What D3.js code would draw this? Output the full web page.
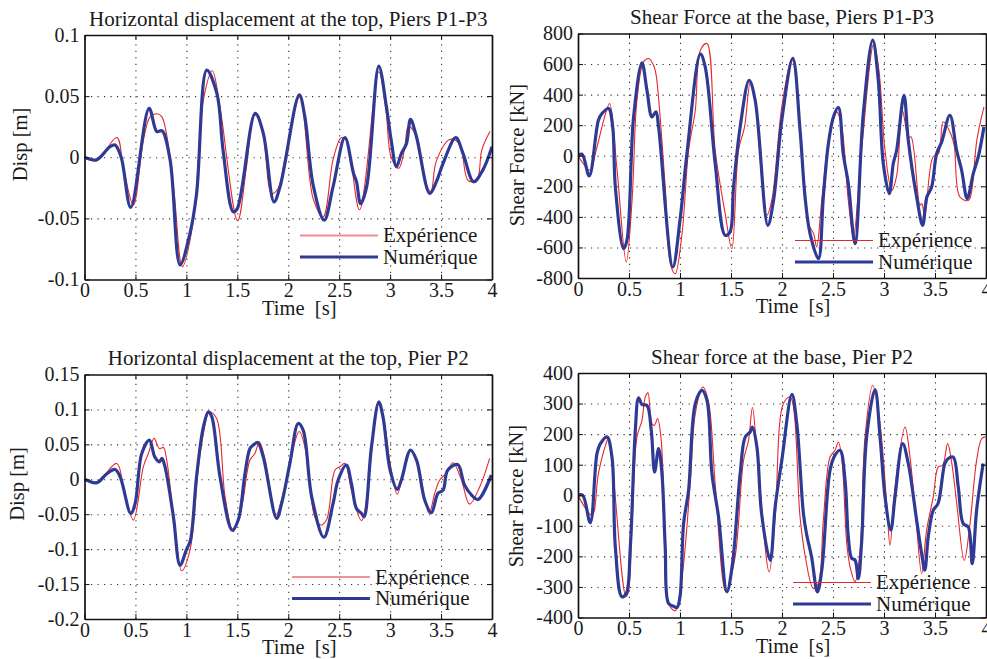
<!DOCTYPE html>
<html>
<head>
<meta charset="utf-8">
<script src="https://cdn.jsdelivr.net/npm/d3@7"></script>
<style>
  body { margin: 0; background: #fff; }
  svg text { font-family: "Liberation Serif", "Times New Roman", serif; fill: #1a1a1a; }
</style>
</head>
<body>
<div id="chart"></div>
<script>
// x axis, shared by the four panels
var xTicks = [0, 0.5, 1, 1.5, 2, 2.5, 3, 3.5, 4];
var xTickLabels = ["0", "0.5", "1", "1.5", "2", "2.5", "3", "3.5", "4"];

var dispP13Ticks = [-0.1, -0.05, 0, 0.05, 0.1];
var dispP13TickLabels = ["-0.1", "-0.05", "0", "0.05", "0.1"];
var shearP13Ticks = [-800, -600, -400, -200, 0, 200, 400, 600, 800];
var shearP13TickLabels = ["-800", "-600", "-400", "-200", "0", "200", "400", "600", "800"];
var dispP2Ticks = [-0.2, -0.15, -0.1, -0.05, 0, 0.05, 0.1, 0.15];
var dispP2TickLabels = ["-0.2", "-0.15", "-0.1", "-0.05", "0", "0.05", "0.1", "0.15"];
var shearP2Ticks = [-400, -300, -200, -100, 0, 100, 200, 300, 400];
var shearP2TickLabels = ["-400", "-300", "-200", "-100", "0", "100", "200", "300", "400"];

var seriesNames = ["Expérience", "Numérique"];

// top displacement, piers P1-P3 [m]
var dispP13ExpT = [0, 0.12, 0.317, 0.38, 0.48, 0.578, 0.644, 0.71, 0.76, 0.873, 0.96, 1.07, 1.167, 1.255, 1.33, 1.503, 1.59, 1.667, 1.74, 1.837, 1.9, 1.967, 2.114, 2.245, 2.343, 2.44, 2.52, 2.57, 2.70, 2.889, 2.96, 3.01, 3.085, 3.14, 3.18, 3.26, 3.356, 3.40, 3.454, 3.585, 3.68, 3.765, 3.85, 3.90, 3.98];
var dispP13ExpV = [0, -0.003, 0.0162, -0.008, -0.039, 0.014, 0.033, 0.0356, 0.033, -0.024, -0.0896, -0.051, 0.047, 0.0708, 0.041, -0.052, -0.008, 0.0345, 0.025, -0.0296, -0.0255, -0.002, 0.0495, -0.034, -0.0487, -0.002, 0.016, 0.014, -0.043, 0.070, 0.038, 0, -0.009, 0.006, 0.0255, 0.017, -0.0228, -0.028, -0.003, 0.0146, 0.011, -0.019, -0.019, 0.006, 0.021];
var dispP13NumT = [0, 0.12, 0.25, 0.30, 0.36, 0.454, 0.634, 0.71, 0.76, 0.84, 0.938, 1.036, 1.10, 1.20, 1.30, 1.36, 1.46, 1.50, 1.676, 1.755, 1.86, 1.92, 2.108, 2.163, 2.245, 2.353, 2.44, 2.556, 2.64, 2.67, 2.71, 2.77, 2.889, 2.964, 3.01, 3.062, 3.11, 3.16, 3.20, 3.258, 3.389, 3.454, 3.52, 3.644, 3.716, 3.82, 3.91, 4.0];
var dispP13NumV = [0, -0.002, 0.0086, 0.010, 0.0, -0.041, 0.040, 0.021, 0.0217, -0.002, -0.088, -0.062, -0.03, 0.0713, 0.052, 0.006, -0.0446, -0.042, 0.036, 0.0195, -0.0365, -0.024, 0.051, 0.033, -0.023, -0.0515, -0.024, 0.016, -0.013, -0.02, -0.038, -0.024, 0.0746, 0.041, 0.014, -0.0078, 0.003, 0.011, 0.031, 0.017, -0.0296, -0.02, -0.005, 0.016, 0.003, -0.02, -0.0105, 0.0086];

// base shear, piers P1-P3 [kN]
var shearP13ExpT = [0, 0.12, 0.17, 0.235, 0.27, 0.31, 0.38, 0.473, 0.53, 0.578, 0.643, 0.692, 0.741, 0.764, 0.855, 0.905, 0.953, 1.02, 1.084, 1.15, 1.20, 1.264, 1.345, 1.443, 1.508, 1.574, 1.633, 1.69, 1.737, 1.85, 1.90, 1.998, 2.096, 2.145, 2.26, 2.31, 2.34, 2.39, 2.455, 2.537, 2.586, 2.65, 2.70, 2.78, 2.90, 2.95, 3.01, 3.076, 3.125, 3.18, 3.24, 3.266, 3.353, 3.37, 3.40, 3.48, 3.535, 3.58, 3.66, 3.69, 3.744, 3.83, 3.86, 3.91, 3.98];
var shearP13ExpV = [0, -95, 14, 189, 276, 342, -73, -695, -292, 363, 614, 636, 592, 538, -204, -706, -772, -510, 36, 298, 691, 735, 36, -379, -608, 36, 189, 483, 363, -390, -292, 320, 636, 451, -444, -510, -597, -292, 80, 287, 189, -292, -531, 36, 735, 560, 36, -226, -128, 298, 123, 123, -324, -313, -390, -8, 14, 222, 134, 60, -270, -292, -230, 101, 320];
var shearP13NumT = [0, 0.04, 0.11, 0.20, 0.235, 0.30, 0.34, 0.366, 0.447, 0.48, 0.545, 0.627, 0.676, 0.725, 0.764, 0.79, 0.93, 1.0, 1.068, 1.20, 1.247, 1.345, 1.443, 1.49, 1.525, 1.59, 1.678, 1.737, 1.861, 1.917, 1.998, 2.106, 2.177, 2.226, 2.275, 2.357, 2.405, 2.455, 2.504, 2.553, 2.60, 2.65, 2.716, 2.797, 2.889, 2.944, 2.993, 3.052, 3.091, 3.124, 3.196, 3.238, 3.32, 3.379, 3.42, 3.467, 3.516, 3.565, 3.646, 3.712, 3.761, 3.816, 3.875, 3.924, 3.98];
var shearP13NumV = [0, 10, -132, 232, 276, 309, 189, -204, -608, -553, 254, 608, 429, 254, 287, 189, -728, -422, 14, 665, 582, -51, -521, -499, -204, 189, 494, 363, -455, -292, 232, 637, 167, -270, -510, -673, -270, 80, 254, 316, 14, -182, -575, 276, 757, 494, -51, -248, -51, 36, 396, 101, -270, -455, -270, -204, 14, 90, 265, 36, -95, -280, -117, -8, 189];

// top displacement, pier P2 [m]
var dispP2ExpT = [0, 0.12, 0.317, 0.382, 0.48, 0.578, 0.627, 0.683, 0.735, 0.775, 0.807, 0.89, 0.954, 1.036, 1.118, 1.167, 1.225, 1.297, 1.38, 1.46, 1.543, 1.624, 1.673, 1.716, 1.77, 1.88, 1.951, 2.108, 2.163, 2.26, 2.317, 2.376, 2.458, 2.507, 2.556, 2.62, 2.72, 2.889, 2.95, 3.0, 3.07, 3.128, 3.193, 3.26, 3.382, 3.438, 3.487, 3.55, 3.618, 3.70, 3.78, 3.88, 3.977];
var dispP2ExpV = [0, -0.004, 0.0227, -0.0107, -0.0584, 0.018, 0.037, 0.0585, 0.044, 0.0455, 0.0275, -0.0727, -0.131, -0.101, 0.018, 0.0655, 0.0966, 0.087, -0.025, -0.075, -0.0393, 0.0275, 0.037, 0.0537, 0.0298, -0.051, -0.02, 0.0684, 0.0465, -0.0537, -0.0655, -0.058, 0.013, 0.018, 0.0227, -0.0155, -0.0594, 0.112, 0.075, 0.0227, -0.0212, 0.0084, 0.0417, 0.027, -0.0489, -0.02, -0.001, 0.0084, 0.0236, -0.001, -0.0355, -0.0107, 0.03];
var dispP2NumT = [0, 0.12, 0.22, 0.30, 0.35, 0.454, 0.497, 0.562, 0.637, 0.69, 0.735, 0.76, 0.79, 0.873, 0.938, 1.0, 1.04, 1.10, 1.167, 1.216, 1.25, 1.33, 1.45, 1.51, 1.575, 1.624, 1.657, 1.70, 1.755, 1.886, 1.935, 2.016, 2.098, 2.147, 2.23, 2.35, 2.44, 2.49, 2.57, 2.62, 2.67, 2.72, 2.745, 2.817, 2.889, 2.93, 3.0, 3.07, 3.11, 3.20, 3.26, 3.34, 3.405, 3.47, 3.52, 3.565, 3.663, 3.73, 3.80, 3.863, 3.993];
var dispP2NumV = [0, -0.005, 0.008, 0.014, 0.0036, -0.0489, -0.0346, 0.037, 0.056, 0.032, 0.025, 0.03, 0.018, -0.054, -0.123, -0.101, -0.087, 0.0036, 0.075, 0.0966, 0.0894, 0.0036, -0.0727, -0.058, 0.008, 0.044, 0.049, 0.0527, 0.032, -0.056, -0.0346, 0.0227, 0.0799, 0.07, -0.025, -0.083, -0.0346, -0.001, 0.0203, -0.006, -0.042, -0.049, -0.0537, 0.0465, 0.1106, 0.0894, 0.013, -0.0145, -0.001, 0.0417, 0.027, -0.03, -0.0479, -0.02, -0.0155, 0.013, 0.021, -0.008, -0.0227, -0.029, 0.006];

// base shear, pier P2 [kN]
var shearP2ExpT = [0, 0.137, 0.20, 0.27, 0.30, 0.35, 0.47, 0.49, 0.53, 0.578, 0.627, 0.66, 0.686, 0.725, 0.751, 0.78, 0.813, 0.855, 0.888, 0.953, 1.02, 1.10, 1.15, 1.224, 1.28, 1.345, 1.45, 1.54, 1.623, 1.672, 1.71, 1.754, 1.874, 1.933, 2.014, 2.08, 2.177, 2.226, 2.307, 2.356, 2.405, 2.471, 2.52, 2.553, 2.585, 2.635, 2.667, 2.716, 2.765, 2.814, 2.889, 2.96, 3.026, 3.059, 3.108, 3.206, 3.255, 3.32, 3.369, 3.418, 3.483, 3.532, 3.575, 3.624, 3.665, 3.713, 3.787, 3.843, 3.908, 3.957, 3.99];
var shearP2ExpV = [0, -65, 71, 164, 189, 49, -332, -322, -93, 191, 245, 322, 335, 234, 229, 251, 191, -136, -354, -378, -267, 38, 267, 354, 305, 38, -316, -202, 114, 180, 287, 147, -251, -71, 300, 321, -71, -196, -305, -289, -82, 125, 147, 174, 125, -158, -234, -283, -185, 191, 360, 235, -27, -164, 27, 223, 125, -104, -256, -114, -5, 93, 98, 169, 104, -27, -213, -93, 114, 185, 191];
var shearP2NumT = [0, 0.046, 0.12, 0.186, 0.22, 0.284, 0.333, 0.366, 0.43, 0.473, 0.513, 0.562, 0.594, 0.627, 0.676, 0.718, 0.751, 0.79, 0.823, 0.855, 0.888, 0.937, 0.97, 1.0, 1.035, 1.084, 1.15, 1.215, 1.264, 1.313, 1.378, 1.46, 1.515, 1.59, 1.64, 1.688, 1.71, 1.754, 1.80, 1.884, 1.933, 1.998, 2.097, 2.145, 2.21, 2.24, 2.29, 2.347, 2.39, 2.471, 2.52, 2.569, 2.618, 2.65, 2.683, 2.716, 2.748, 2.78, 2.83, 2.912, 2.961, 3.01, 3.066, 3.108, 3.183, 3.238, 3.32, 3.369, 3.40, 3.434, 3.483, 3.53, 3.597, 3.63, 3.679, 3.728, 3.777, 3.826, 3.865, 3.908, 3.972];
var shearP2NumV = [0, 0, -90, 136, 169, 191, 125, -169, -332, -322, -169, 213, 319, 297, 294, 213, 76, 153, 71, -169, -354, -363, -367, -332, -93, 16, 300, 343, 311, 71, -71, -316, -223, 71, 191, 207, 223, 158, -60, -213, -38, 114, 330, 234, -60, -125, -202, -316, -245, 82, 131, 147, 49, -136, -206, -212, -273, -157, 191, 346, 191, -5, -114, -5, 169, 104, -82, -191, -245, -136, -49, -27, 104, 120, 125, 27, -93, -104, -224, -49, 104];

var RED = "#e8262b", BLUE = "#2f3a94";

var panels = [
  { title: "Horizontal displacement at the top, Piers P1-P3", ylabel: "Disp [m]",
    left: 84.5, right: 492, top: 35, bottom: 279.5, yDomain: [-0.1, 0.1],
    ticks: dispP13Ticks, tickLabels: dispP13TickLabels,
    exp: [dispP13ExpT, dispP13ExpV], num: [dispP13NumT, dispP13NumV],
    ylabX: 27, ylabY: 144.5, legX: 300, legY: 235.5, legRed: "#f28c90", legRedW: 2 },
  { title: "Shear Force at the base, Piers P1-P3", ylabel: "Shear Force [kN]",
    left: 578, right: 986, top: 33.5, bottom: 278, yDomain: [-800, 800],
    ticks: shearP13Ticks, tickLabels: shearP13TickLabels,
    exp: [shearP13ExpT, shearP13ExpV], num: [shearP13NumT, shearP13NumV],
    ylabX: 524, ylabY: 155, legX: 795, legY: 240.5, legRed: RED, legRedW: 1.2 },
  { title: "Horizontal displacement at the top, Pier P2", ylabel: "Disp [m]",
    left: 84.5, right: 492, top: 374.5, bottom: 619, yDomain: [-0.2, 0.15],
    ticks: dispP2Ticks, tickLabels: dispP2TickLabels,
    exp: [dispP2ExpT, dispP2ExpV], num: [dispP2NumT, dispP2NumV],
    ylabX: 24, ylabY: 484, legX: 292, legY: 577, legRed: RED, legRedW: 1.2 },
  { title: "Shear force at the base, Pier P2", ylabel: "Shear Force [kN]",
    left: 578, right: 986, top: 373, bottom: 617.5, yDomain: [-400, 400],
    ticks: shearP2Ticks, tickLabels: shearP2TickLabels,
    exp: [shearP2ExpT, shearP2ExpV], num: [shearP2NumT, shearP2NumV],
    ylabX: 523, ylabY: 496, legX: 793, legY: 582.5, legRed: RED, legRedW: 1.2 }
];

var svg = d3.select("#chart").append("svg")
  .attr("width", 987).attr("height", 659)
  .style("display", "block");

panels.forEach(function(p, n){ drawPanel(p, n); });

function drawPanel(p, n){
  var w = p.right - p.left, h = p.bottom - p.top;
  var x = d3.scaleLinear().domain([0, 4]).range([p.left, p.right]);
  var y = d3.scaleLinear().domain(p.yDomain).range([p.bottom, p.top]);
  var g = svg.append("g");

  g.append("clipPath").attr("id", "clip" + n)
    .append("rect").attr("x", p.left).attr("y", p.top).attr("width", w).attr("height", h);

  // dotted grid
  var gx = g.append("g").attr("transform", "translate(0," + p.bottom + ")")
    .call(d3.axisBottom(x).tickValues(xTicks.slice(1, -1)).tickSize(-h).tickFormat(""));
  var gy = g.append("g").attr("transform", "translate(" + p.left + ",0)")
    .call(d3.axisLeft(y).tickValues(p.ticks.slice(1, -1)).tickSize(-w).tickFormat(""));
  [gx, gy].forEach(function(s){
    s.select(".domain").remove();
    s.selectAll("line").attr("stroke", "#333").attr("stroke-width", 1.1)
      .attr("stroke-dasharray", "1.2,5.3");
  });

  var line = d3.line()
    .x(function(d){ return x(d[0]); })
    .y(function(d){ return y(d[1]); })
    .curve(d3.curveCatmullRom.alpha(0.5));

  var plot = g.append("g").attr("clip-path", "url(#clip" + n + ")");
  plot.append("path").datum(d3.zip(p.exp[0], p.exp[1]))
    .attr("d", line).attr("fill", "none").attr("stroke", RED).attr("stroke-width", 1.1);
  plot.append("path").datum(d3.zip(p.num[0], p.num[1]))
    .attr("d", line).attr("fill", "none").attr("stroke", BLUE)
    .attr("stroke-width", 3.2).attr("stroke-linejoin", "round");

  // axes with inside ticks
  var fmtY = function(d){ return p.tickLabels[p.ticks.indexOf(d)]; };
  var fmtX = function(d){ return xTickLabels[xTicks.indexOf(d)]; };
  var axes = [
    g.append("g").attr("transform", "translate(0," + p.bottom + ")")
      .call(d3.axisBottom(x).tickValues(xTicks).tickFormat(fmtX).tickSizeInner(-5).tickSizeOuter(0).tickPadding(3.5)),
    g.append("g").attr("transform", "translate(" + p.left + ",0)")
      .call(d3.axisLeft(y).tickValues(p.ticks).tickFormat(fmtY).tickSizeInner(-5).tickSizeOuter(0).tickPadding(5)),
    g.append("g").attr("transform", "translate(0," + p.top + ")")
      .call(d3.axisTop(x).tickValues(xTicks).tickFormat("").tickSizeInner(-5).tickSizeOuter(0)),
    g.append("g").attr("transform", "translate(" + p.right + ",0)")
      .call(d3.axisRight(y).tickValues(p.ticks).tickFormat("").tickSizeInner(-5).tickSizeOuter(0))
  ];
  axes.forEach(function(a){
    a.attr("font-family", null);
    a.select(".domain").attr("stroke", "#111").attr("stroke-width", 1.7);
    a.selectAll(".tick line").attr("stroke", "#111").attr("stroke-width", 1);
    a.selectAll("text").attr("font-size", 20).attr("fill", "#1a1a1a");
  });

  g.append("text").attr("x", (p.left + p.right) / 2).attr("y", p.top - 9.5)
    .attr("text-anchor", "middle").attr("font-size", 21).text(p.title);
  g.append("text").attr("x", (p.left + p.right) / 2 + 11).attr("y", p.bottom + 35)
    .attr("text-anchor", "middle").attr("font-size", 20.5).attr("xml:space", "preserve")
    .text("Time  [s]");
  g.append("text").attr("transform", "translate(" + p.ylabX + "," + p.ylabY + ") rotate(-90)")
    .attr("text-anchor", "middle").attr("font-size", 20.5).text(p.ylabel);

  // legend (no box)
  var leg = g.append("g");
  [[p.legRed, p.legRedW], [BLUE, 3.2]].forEach(function(s, i){
    var ly = p.legY + i * 21.5;
    leg.append("line").attr("x1", p.legX).attr("x2", p.legX + 78)
      .attr("y1", ly).attr("y2", ly).attr("stroke", s[0]).attr("stroke-width", s[1]);
    leg.append("text").attr("x", p.legX + 83).attr("y", ly).attr("dy", "0.32em")
      .attr("font-size", 21).text(seriesNames[i]);
  });
}
</script>
</body>
</html>
